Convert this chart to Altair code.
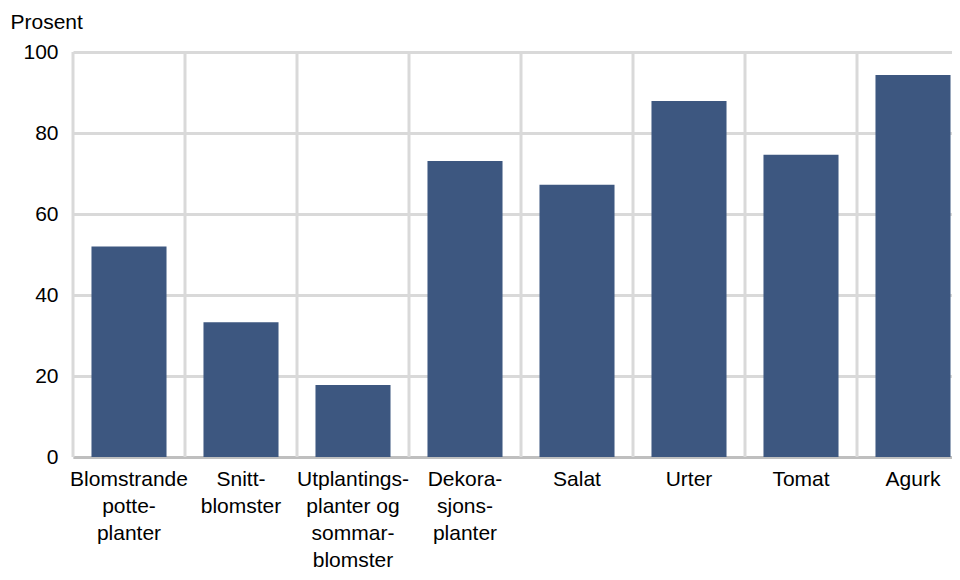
import altair as alt
import pandas as pd

categories = [
    "Blomstrande|potte-|planter",
    "Snitt-|blomster",
    "Utplantings-|planter og|sommar-|blomster",
    "Dekora-|sjons-|planter",
    "Salat",
    "Urter",
    "Tomat",
    "Agurk",
]
values = [52.0, 33.3, 17.8, 73.1, 67.2, 87.9, 74.6, 94.3]
y_ticks = [0, 20, 40, 60, 80, 100]

df = pd.DataFrame({"kategori": categories, "prosent": values})

FONT = "Liberation Sans"
GRID = "#D9D9D9"

x_scale = alt.Scale(paddingInner=0, paddingOuter=0, range=[0, 896])

bars = alt.Chart(df).mark_bar(
    color="#3D5780", width=alt.RelativeBandSize(0.67)
).encode(
    x=alt.X(
        "kategori:N",
        sort=categories,
        scale=x_scale,
        axis=alt.Axis(
            title=None,
            labelExpr="split(datum.value, '|')",
            labelAngle=0,
            labelAlign="center",
            labelFont=FONT,
            labelFontSize=21,
            labelLineHeight=27,
            labelPadding=11,
            labelColor="#000000",
            labelBaseline="top",
            labelLimit=0,
            ticks=False,
            grid=False,
            domainColor="#BFBFBF",
            domainWidth=3,
        ),
    ),
    y=alt.Y(
        "prosent:Q",
        scale=alt.Scale(domain=[0, 100], nice=False),
        axis=alt.Axis(
            values=y_ticks,
            title="Prosent",
            titleAngle=0,
            titleAlign="left",
            titleBaseline="alphabetic",
            titleX=-63,
            titleY=-24,
            titleFont=FONT,
            titleFontSize=21,
            titleFontWeight="normal",
            titleColor="#000000",
            labelFont=FONT,
            labelFontSize=21,
            labelColor="#000000",
            labelPadding=15,
            ticks=False,
            domain=False,
            gridColor=GRID,
            gridWidth=3,
        ),
    ),
)

vlines = alt.Chart(df).mark_rule(color=GRID, strokeWidth=3).encode(
    x=alt.X("kategori:N", sort=categories, bandPosition=0, scale=x_scale),
    y=alt.value(0),
    y2=alt.value(405),
)

chart = alt.layer(vlines, bars).properties(
    width=879,
    height=405,
    autosize=alt.AutoSizeParams(type="none"),
    padding={"left": 65, "top": 44, "right": 0, "bottom": 115},
).configure_view(stroke=None)

chart.save("out.html", embed_options={"renderer": "svg", "actions": False})
